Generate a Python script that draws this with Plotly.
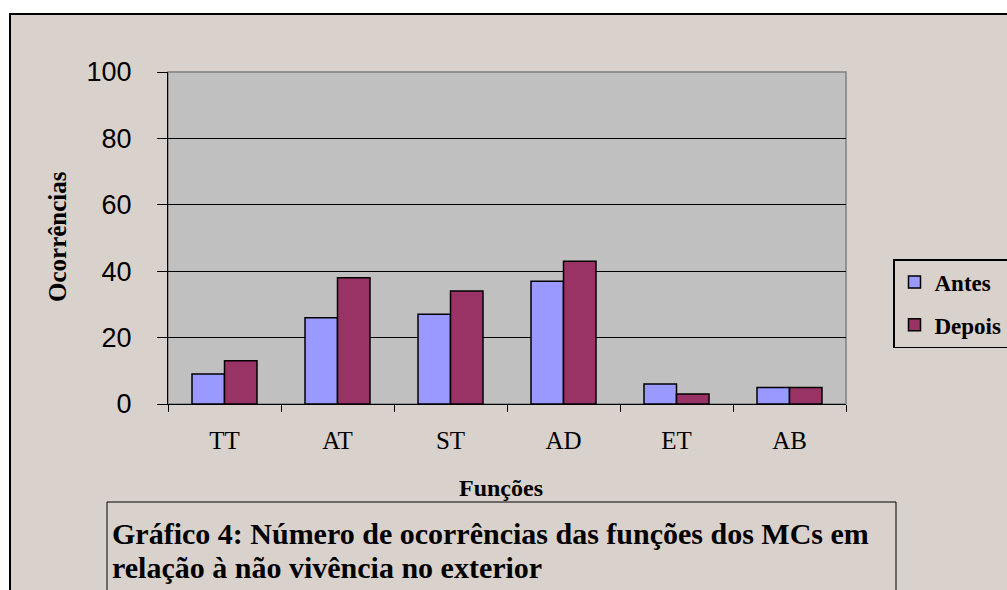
import plotly.graph_objects as go

categories = ["TT", "AT", "ST", "AD", "ET", "AB"]
antes = [9, 26, 27, 37, 6, 5]
depois = [13, 38, 34, 43, 3, 5]
series_names = ["Antes", "Depois"]
y_ticks = [0, 20, 40, 60, 80, 100]
y_title = "Ocorrências"
x_title = "Funções"
caption_lines = ["Gráfico 4: Número de ocorrências das funções dos MCs em",
                 "relação à não vivência no exterior"]

W, H = 1007, 590
L, R, T, B = 168, 846, 72, 404  # plot area in pixels


def px(x):
    return (x - L) / (R - L)


def py(y):
    return (B - y) / (B - T)


BEIGE = "#D9D1CB"
SERIF = "Liberation Serif, Times New Roman, serif"
SANS = "Liberation Sans, Arial, sans-serif"

fig = go.Figure()
fig.add_trace(go.Bar(x=categories, y=antes, name=series_names[0], legendgroup="a",
                     marker=dict(color="#9999FF", line=dict(color="black", width=1.5))))
fig.add_trace(go.Bar(x=categories, y=depois, name=series_names[1], legendgroup="b",
                     marker=dict(color="#993366", line=dict(color="black", width=1.5))))

shapes = [
    # outer chart area
    dict(type="rect", xref="paper", yref="paper", layer="below",
         x0=px(10), x1=px(1020), y0=py(610), y1=py(14),
         fillcolor=BEIGE, line=dict(color="black", width=2)),
    # plot area
    dict(type="rect", xref="paper", yref="paper", layer="below",
         x0=0, x1=1, y0=0, y1=1,
         fillcolor="#C0C0C0", line=dict(color="#808080", width=1.5)),
    # caption box
    dict(type="rect", xref="paper", yref="paper", layer="above",
         x0=px(107), x1=px(896), y0=py(610), y1=py(502),
         fillcolor="rgba(0,0,0,0)", line=dict(color="black", width=1)),
]

annotations = [
    dict(text="<b>%s</b>" % y_title, xref="paper", yref="paper", x=px(57), y=py(237),
         textangle=-90, showarrow=False, font=dict(family=SERIF, size=25, color="black"),
         xanchor="center", yanchor="middle"),
    dict(text="<b>%s</b>" % x_title, xref="paper", yref="paper", x=px(501), y=py(488),
         showarrow=False, font=dict(family=SERIF, size=24, color="black"),
         xanchor="center", yanchor="middle"),
    dict(text="<b>%s</b>" % caption_lines[0], xref="paper", yref="paper", x=px(110), y=py(533),
         showarrow=False, font=dict(family=SERIF, size=30, color="black"),
         xanchor="left", yanchor="middle"),
    dict(text="<b>%s</b>" % caption_lines[1], xref="paper", yref="paper", x=px(110), y=py(567),
         showarrow=False, font=dict(family=SERIF, size=30, color="black"),
         xanchor="left", yanchor="middle"),
]

fig.update_layout(
    width=W, height=H,
    margin=dict(l=L, r=W - R, t=T, b=H - B, pad=0, autoexpand=False),
    paper_bgcolor="white", plot_bgcolor="rgba(0,0,0,0)",
    barmode="group", bargap=0.425, bargroupgap=0,
    shapes=shapes, annotations=annotations,
    showlegend=True,
    legend=dict(x=px(893), y=py(259), xanchor="left", yanchor="top",
                bgcolor=BEIGE, bordercolor="black", borderwidth=1.5,
                font=dict(family=SERIF, size=23, color="black", weight="bold"),
                traceorder="grouped", tracegroupgap=10, itemclick=False),
    xaxis=dict(showline=True, linecolor="black", linewidth=1,
               ticks="outside", ticklen=7, tickcolor="black", tickson="boundaries",
               tickfont=dict(family=SERIF, size=25, color="black"), ticklabelstandoff=14,
               showgrid=False, automargin=False, fixedrange=True),
    yaxis=dict(range=[0, 100], tickvals=y_ticks, showline=True, linecolor="black", linewidth=1,
               ticks="outside", ticklen=10, tickcolor="black",
               tickfont=dict(family=SANS, size=27, color="black"), ticklabelstandoff=20,
               showgrid=True, gridcolor="black", gridwidth=1, zeroline=False,
               automargin=False, fixedrange=True),
)

fig.write_html("out.html", config={"displayModeBar": False},
               post_script="document.body.style.margin='0px';document.body.style.overflow='hidden';")
